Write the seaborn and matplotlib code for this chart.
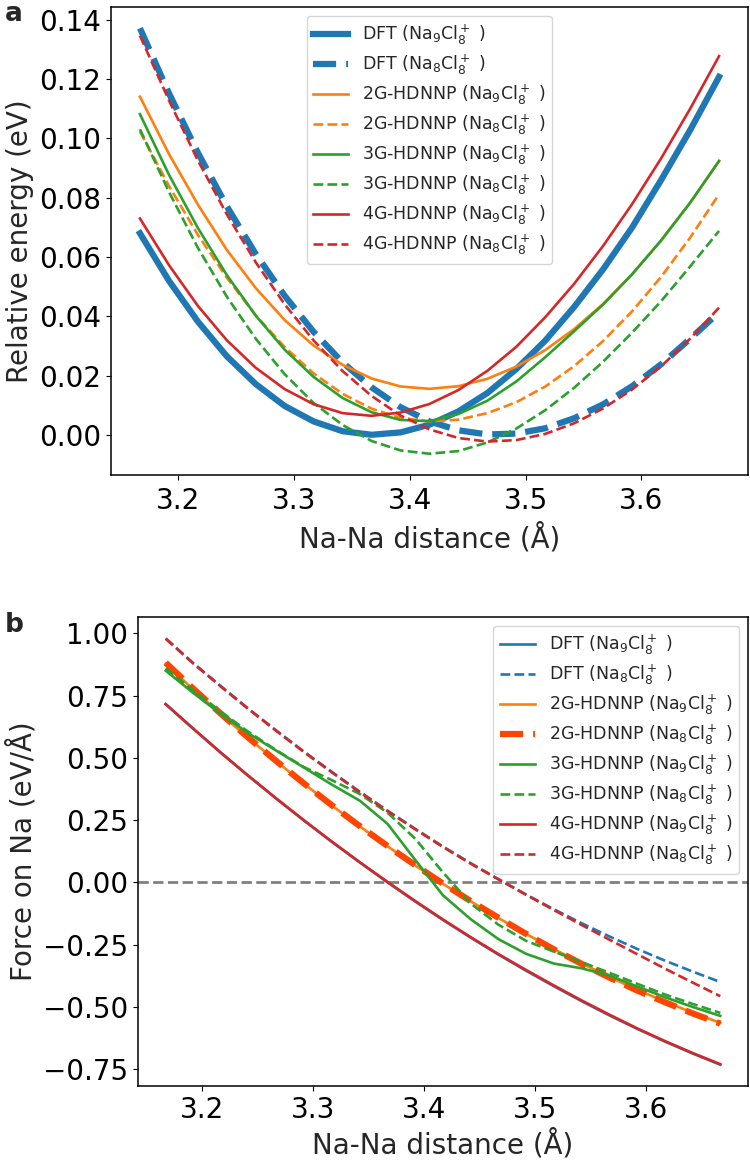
import numpy as np
import seaborn as sns
import matplotlib.pyplot as plt

# Na-Na distance grid (Angstrom)
x_dist = [3.167, 3.192, 3.217, 3.242, 3.267, 3.292, 3.317, 3.342, 3.367, 3.392, 3.417,
          3.442, 3.467, 3.492, 3.517, 3.542, 3.567, 3.592, 3.617, 3.642, 3.667]

# panel a: relative energy (eV)
e_dft_na9 = [0.0680, 0.0520, 0.0382, 0.0265, 0.0171, 0.0097, 0.0045, 0.0012, 0.0000, 0.0008, 0.0034,
             0.0079, 0.0141, 0.0222, 0.0318, 0.0432, 0.0559, 0.0700, 0.0860, 0.1028, 0.1208]
e_dft_na8 = [0.1372, 0.1153, 0.0952, 0.0771, 0.0610, 0.0469, 0.0347, 0.0244, 0.0160, 0.0093, 0.0045,
             0.0015, 0.0001, 0.0004, 0.0022, 0.0056, 0.0103, 0.0164, 0.0238, 0.0324, 0.0413]
e_2g_na9 = [0.1141, 0.0948, 0.0777, 0.0624, 0.0495, 0.0387, 0.0301, 0.0236, 0.0190, 0.0163, 0.0155,
            0.0164, 0.0189, 0.0230, 0.0286, 0.0357, 0.0442, 0.0542, 0.0656, 0.0783, 0.0924]
e_2g_na8 = [0.1024, 0.0840, 0.0675, 0.0530, 0.0403, 0.0296, 0.0207, 0.0138, 0.0088, 0.0057, 0.0045,
            0.0051, 0.0073, 0.0110, 0.0163, 0.0232, 0.0317, 0.0417, 0.0533, 0.0665, 0.0812]
e_3g_na9 = [0.1082, 0.0878, 0.0698, 0.0539, 0.0402, 0.0287, 0.0195, 0.0124, 0.0076, 0.0050, 0.0046,
            0.0070, 0.0115, 0.0180, 0.0262, 0.0350, 0.0440, 0.0542, 0.0656, 0.0783, 0.0924]
e_3g_na8 = [0.1031, 0.0820, 0.0631, 0.0466, 0.0324, 0.0204, 0.0107, 0.0033, -0.0021, -0.0053, -0.0064,
            -0.0055, -0.0026, 0.0021, 0.0083, 0.0159, 0.0247, 0.0345, 0.0451, 0.0568, 0.0688]
e_4g_na9 = [0.0730, 0.0573, 0.0435, 0.0319, 0.0226, 0.0154, 0.0103, 0.0073, 0.0064, 0.0075, 0.0104,
            0.0151, 0.0216, 0.0297, 0.0397, 0.0510, 0.0638, 0.0779, 0.0933, 0.1100, 0.1278]
e_4g_na8 = [0.1347, 0.1129, 0.0926, 0.0744, 0.0582, 0.0440, 0.0318, 0.0215, 0.0131, 0.0065, 0.0018,
            -0.0011, -0.0023, -0.0018, 0.0003, 0.0039, 0.0089, 0.0153, 0.0231, 0.0324, 0.0429]

# panel b: force on Na (eV/A)
f_dft_na9 = [0.716, 0.617, 0.520, 0.426, 0.335, 0.247, 0.162, 0.080, 0.000, -0.077, -0.151,
             -0.222, -0.290, -0.355, -0.417, -0.477, -0.534, -0.588, -0.639, -0.687, -0.732]
f_dft_na8 = [0.980, 0.880, 0.787, 0.696, 0.609, 0.524, 0.443, 0.364, 0.288, 0.215, 0.144,
             0.077, 0.013, -0.049, -0.108, -0.164, -0.217, -0.267, -0.314, -0.358, -0.400]
f_2g_na9 = [0.877, 0.774, 0.674, 0.578, 0.485, 0.395, 0.308, 0.225, 0.145, 0.068, -0.006,
            -0.076, -0.143, -0.207, -0.268, -0.325, -0.380, -0.431, -0.478, -0.523, -0.564]
f_2g_na8 = [0.882, 0.777, 0.676, 0.579, 0.486, 0.396, 0.309, 0.226, 0.146, 0.069, -0.005,
            -0.075, -0.142, -0.207, -0.269, -0.327, -0.382, -0.434, -0.481, -0.526, -0.567]
f_3g_na9 = [0.850, 0.760, 0.675, 0.597, 0.528, 0.460, 0.392, 0.328, 0.235, 0.090, -0.052,
            -0.148, -0.228, -0.287, -0.326, -0.345, -0.374, -0.418, -0.461, -0.500, -0.536]
f_3g_na8 = [0.860, 0.770, 0.685, 0.603, 0.530, 0.462, 0.410, 0.355, 0.280, 0.175, 0.040,
            -0.085, -0.170, -0.235, -0.278, -0.320, -0.363, -0.407, -0.450, -0.488, -0.524]
f_4g_na9 = [0.715, 0.616, 0.519, 0.426, 0.336, 0.248, 0.163, 0.081, 0.002, -0.075, -0.149,
            -0.220, -0.288, -0.352, -0.414, -0.474, -0.531, -0.586, -0.637, -0.685, -0.730]
f_4g_na8 = [0.978, 0.878, 0.785, 0.694, 0.607, 0.522, 0.441, 0.362, 0.286, 0.213, 0.142,
            0.075, 0.012, -0.050, -0.111, -0.171, -0.230, -0.288, -0.346, -0.402, -0.457]

na9 = r'(Na$_9$Cl$_8^+$ )'
na8 = r'(Na$_8$Cl$_8^+$ )'

sns.set_style('ticks')
plt.rcParams['font.family'] = ['DejaVu Sans']
plt.rcParams['lines.solid_capstyle'] = 'projecting'
plt.rcParams['lines.solid_joinstyle'] = 'round'
plt.rcParams['lines.dash_joinstyle'] = 'round'
plt.rcParams['axes.edgecolor'] = 'black'
plt.rcParams['xtick.color'] = 'black'
plt.rcParams['ytick.color'] = 'black'
plt.rcParams['axes.linewidth'] = 1.1

fig = plt.figure(figsize=(7.5, 11.62), dpi=100)
ax_a = fig.add_axes([111 / 750, 1 - 475 / 1162, 637 / 750, 468 / 1162])
ax_b = fig.add_axes([138 / 750, 1 - 1086 / 1162, 610 / 750, 469 / 1162])

thin = 1.9
leg_kw = dict(fontsize=12.5, frameon=True, labelspacing=0.33)

# panel a
sns.lineplot(x=x_dist, y=e_dft_na9, ax=ax_a, color='C0', lw=4.5, label='DFT ' + na9)
sns.lineplot(x=x_dist, y=e_dft_na8, ax=ax_a, color='C0', lw=4.5, ls='--', label='DFT ' + na8)
sns.lineplot(x=x_dist, y=e_2g_na9, ax=ax_a, color='C1', lw=thin, label='2G-HDNNP ' + na9)
sns.lineplot(x=x_dist, y=e_2g_na8, ax=ax_a, color='C1', lw=thin, ls='--', label='2G-HDNNP ' + na8)
sns.lineplot(x=x_dist, y=e_3g_na9, ax=ax_a, color='C2', lw=thin, label='3G-HDNNP ' + na9)
sns.lineplot(x=x_dist, y=e_3g_na8, ax=ax_a, color='C2', lw=thin, ls='--', label='3G-HDNNP ' + na8)
sns.lineplot(x=x_dist, y=e_4g_na9, ax=ax_a, color='C3', lw=thin, label='4G-HDNNP ' + na9)
sns.lineplot(x=x_dist, y=e_4g_na8, ax=ax_a, color='C3', lw=thin, ls='--', label='4G-HDNNP ' + na8)
ax_a.legend(loc='upper center', **leg_kw)
ax_a.set_xlabel('Na-Na distance (Å)', fontsize=20, labelpad=6)
ax_a.set_ylabel('Relative energy (eV)', fontsize=20)
ax_a.set_yticks([0.00, 0.02, 0.04, 0.06, 0.08, 0.10, 0.12, 0.14])
ax_a.tick_params(labelsize=20)
ax_a.tick_params(axis='x', pad=5)

# panel b
ax_b.axhline(0, color='gray', lw=2, ls='--')
sns.lineplot(x=x_dist, y=f_dft_na9, ax=ax_b, color='C0', lw=thin, label='DFT ' + na9)
sns.lineplot(x=x_dist, y=f_dft_na8, ax=ax_b, color='C0', lw=thin, ls='--', label='DFT ' + na8)
sns.lineplot(x=x_dist, y=f_2g_na9, ax=ax_b, color='C1', lw=thin, label='2G-HDNNP ' + na9)
sns.lineplot(x=x_dist, y=f_2g_na8, ax=ax_b, color='orangered', lw=4.5, ls='--', label='2G-HDNNP ' + na8)
sns.lineplot(x=x_dist, y=f_3g_na9, ax=ax_b, color='C2', lw=thin, label='3G-HDNNP ' + na9)
sns.lineplot(x=x_dist, y=f_3g_na8, ax=ax_b, color='C2', lw=thin, ls='--', label='3G-HDNNP ' + na8)
sns.lineplot(x=x_dist, y=f_4g_na9, ax=ax_b, color='C3', lw=thin, label='4G-HDNNP ' + na9)
sns.lineplot(x=x_dist, y=f_4g_na8, ax=ax_b, color='C3', lw=thin, ls='--', label='4G-HDNNP ' + na8)
ax_b.legend(loc='upper right', **leg_kw)
ax_b.set_xlabel('Na-Na distance (Å)', fontsize=20, labelpad=3)
ax_b.set_ylabel('Force on Na (eV/Å)', fontsize=20)
ax_b.set_yticks([-0.75, -0.50, -0.25, 0.00, 0.25, 0.50, 0.75, 1.00])
ax_b.tick_params(labelsize=20)
ax_b.tick_params(axis='x', pad=4)

# panel letters
fig.text(5 / 750, 1 - 21 / 1162, 'a', fontsize=19, fontweight='bold', va='baseline')
fig.text(5 / 750, 1 - 632 / 1162, 'b', fontsize=19, fontweight='bold', va='baseline')

fig.savefig('out.png', dpi=100)
